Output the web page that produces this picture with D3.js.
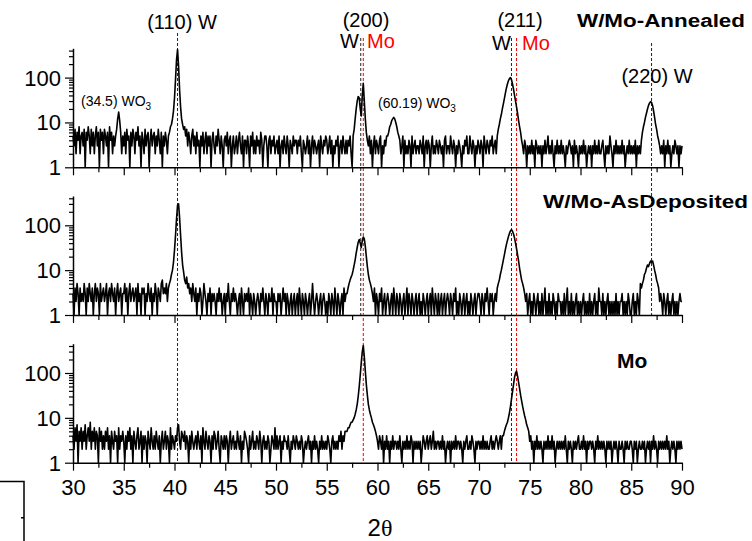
<!DOCTYPE html>
<html>
<head>
<meta charset="utf-8">
<script src="https://cdn.jsdelivr.net/npm/d3@7"></script>
<style>
  body { margin: 0; background: #fff; }
  svg { display: block; font-family: 'Liberation Sans', Arial, sans-serif; }
</style>
</head>
<body>
<div id="main"></div>
<script>
/* 2theta grid: each row is one degree, counts at x.0 .. x.9 */
const startAngle = 30, stepAngle = 0.1;

const annealed = [
  [5,3,7,2,6,4,8,2,5,6], // 30
  [3,7,1,6,4,8,5,2,7,3],
  [6,2,5,8,3,6,1,7,4,6],
  [2,7,5,3,6,1,8,4,6,2],
  [5,3,5,7,12,17,11,6,2,5],
  [3,6,2,7,4,5,1,6,3,7], // 35
  [5,2,6,4,8,3,5,1,6,4],
  [2,7,3,5,6,1,4,7,3,5],
  [6,2,5,3,7,4,2,6,1,5],
  [3,6,4,2,5,6,8,9,12,18],
  [35,90,250,420,180,55,22,12,9,7], // 40
  [8,5,7,3,6,4,2,5,7,3],
  [5,2,6,3,4,1,5,3,6,2],
  [4,6,2,5,3,5,1,4,6,3],
  [2,5,3,7,4,2,5,3,1,4],
  [5,3,6,2,4,5,1,3,5,2], // 45
  [3,5,2,4,6,3,2,5,1,4],
  [4,2,5,3,1,5,3,6,2,4],
  [2,5,3,4,2,6,4,1,3,5],
  [5,3,1,4,5,2,4,3,5,2],
  [3,4,2,5,1,3,4,2,5,3], // 50
  [2,5,3,1,4,3,2,5,3,4],
  [4,2,4,3,5,2,1,4,3,2],
  [3,5,2,4,1,3,5,2,4,3],
  [2,3,4,1,5,3,2,4,3,5],
  [4,2,3,5,2,4,1,3,2,4], // 55
  [3,5,1,3,4,2,5,3,2,4],
  [2,4,3,5,2,1,5,7,12,20],
  [30,38,35,20,14,40,75,30,12,6],
  [4,3,5,2,4,1,3,5,2,4],
  [3,2,4,5,1,3,2,4,3,5], // 60
  [5,6,8,9,11,12,13,12,10,8],
  [6,5,4,2,3,5,1,4,2,3],
  [2,4,3,1,5,2,3,4,2,3],
  [3,2,4,3,2,5,1,3,4,2],
  [4,3,1,3,5,2,3,2,4,3], // 65
  [2,4,3,2,3,1,4,5,2,3],
  [3,2,5,3,2,4,3,1,3,2],
  [4,3,2,1,3,2,4,3,5,2],
  [2,5,3,2,4,3,1,3,2,4],
  [3,2,4,3,1,5,3,2,4,3], // 70
  [2,4,3,5,2,3,4,2,5,7],
  [9,12,15,20,26,34,45,58,72,85],
  [95,100,90,72,55,40,30,22,16,11],
  [8,6,4,3,2,4,3,1,3,2],
  [3,2,4,2,3,1,4,3,2,3], // 75
  [2,3,1,3,2,4,2,3,5,2],
  [3,2,4,2,1,3,2,4,2,3],
  [2,4,2,3,2,1,3,2,3,4],
  [3,2,3,1,4,2,3,2,1,3],
  [2,3,2,4,2,3,1,2,3,2], // 80
  [3,1,3,2,4,2,3,2,4,2],
  [2,3,4,2,1,3,2,3,2,5],
  [3,2,1,3,2,4,2,3,2,3],
  [2,4,2,3,1,2,3,2,4,2],
  [3,2,3,2,4,1,3,2,3,2], // 85
  [4,6,8,10,13,16,20,24,27,29],
  [28,24,18,13,9,7,5,4,3,2],
  [3,2,4,1,3,2,4,2,3,1],
  [2,3,2,4,3,2,3,1,3,2],
  [3] // 90
];

const asDeposited = [
  [3,1,4,2,5,3,1,4,2,3], // 30
  [2,5,3,1,4,2,5,3,2,4],
  [1,3,5,2,4,3,1,5,2,3],
  [4,2,3,5,1,3,4,2,5,3],
  [2,4,1,3,5,2,3,4,1,3],
  [3,5,2,4,1,3,5,2,3,4], // 35
  [2,3,4,1,5,2,3,1,4,3],
  [4,1,3,2,5,3,2,4,1,3],
  [2,5,3,1,4,3,2,5,6,3],
  [4,3,5,2,4,5,6,8,10,15],
  [28,60,140,280,300,150,60,25,13,9], // 40
  [6,5,7,4,5,3,4,2,5,3],
  [2,4,1,3,2,4,3,1,2,5],
  [3,2,1,3,2,4,1,3,2,3],
  [2,1,3,2,4,2,3,1,2,3],
  [1,3,2,5,2,1,3,2,4,2], // 45
  [3,2,1,2,3,1,4,2,1,3],
  [2,3,2,4,1,3,2,1,3,2],
  [1,2,3,2,1,3,2,4,2,1],
  [3,2,1,3,2,2,4,1,3,2],
  [2,1,3,2,3,1,2,4,2,3], // 50
  [1,3,2,1,2,3,1,2,3,1],
  [2,3,1,4,2,1,3,2,1,3],
  [2,1,2,3,1,2,5,2,1,2],
  [3,2,1,2,3,1,2,3,2,1],
  [2,1,3,2,1,3,2,1,4,2], // 55
  [1,3,2,1,2,3,1,4,2,3],
  [3,4,5,6,7,8,10,13,17,24],
  [32,42,48,40,32,45,55,50,34,20],
  [12,8,6,5,4,3,2,4,1,3],
  [2,1,3,2,4,1,2,3,1,2], // 60
  [3,2,1,2,3,1,4,2,1,3],
  [2,1,3,2,1,2,3,1,2,4],
  [1,3,2,1,3,2,1,2,3,1],
  [2,3,1,2,1,3,2,1,2,3],
  [1,2,3,1,4,2,1,3,2,1], // 65
  [3,1,2,3,1,2,3,1,2,3],
  [2,1,3,2,1,3,2,4,1,2],
  [1,3,2,1,2,3,1,2,3,1],
  [2,1,3,2,1,2,3,1,2,3],
  [3,2,1,3,2,1,3,2,4,2], // 70
  [1,3,2,3,1,2,3,2,4,5],
  [6,8,10,13,17,22,29,37,46,56],
  [66,75,80,74,64,52,40,30,22,16],
  [11,8,6,5,4,3,2,3,1,2],
  [3,1,2,1,3,2,1,2,3,1], // 75
  [2,1,3,1,2,4,1,2,1,3],
  [1,2,1,3,2,1,2,1,3,2],
  [2,1,2,1,3,1,2,4,1,2],
  [1,3,1,2,1,2,3,1,2,1],
  [2,1,2,3,1,2,1,2,1,3], // 80
  [1,2,1,2,3,1,2,1,4,2],
  [2,1,3,1,2,1,2,3,1,2],
  [1,2,1,2,1,3,1,2,1,2],
  [2,3,1,2,1,2,1,3,2,1],
  [1,2,3,1,2,1,3,2,1,5], // 85
  [4,5,6,8,9,11,13,12,14,16],
  [15,16,13,10,8,6,5,4,2,3],
  [2,1,3,2,1,2,3,1,2,1],
  [2,3,1,2,1,2,1,2,3,2],
  [2] // 90
];

const molybdenum = [
  [4,2,6,3,7,1,5,3,6,2], // 30
  [5,3,7,2,4,6,3,8,2,5],
  [3,6,2,5,4,1,6,3,5,2],
  [4,2,5,3,6,2,4,1,5,3],
  [2,5,3,4,1,6,2,4,3,5],
  [3,1,4,2,5,3,6,2,4,1], // 35
  [5,3,2,4,6,2,3,5,1,4],
  [2,4,3,1,5,3,2,6,3,2],
  [4,2,5,3,2,4,1,3,5,2],
  [3,5,2,4,3,1,6,2,4,3],
  [2,4,3,6,7,3,2,5,4,3], // 40
  [5,2,4,3,1,4,2,5,3,2],
  [3,4,2,5,3,2,4,1,6,3],
  [2,5,3,2,4,3,1,4,2,5],
  [4,2,3,5,2,1,4,3,2,4],
  [2,4,3,1,3,5,2,3,4,2], // 45
  [3,2,5,3,2,4,1,3,2,5],
  [4,3,2,1,4,2,3,5,2,3],
  [2,4,3,2,5,3,1,3,4,2],
  [3,2,4,3,1,2,4,3,2,6],
  [2,4,2,3,4,1,3,2,4,3], // 50
  [3,2,4,2,1,3,2,4,3,2],
  [4,3,2,3,2,4,3,1,2,3],
  [2,3,4,2,3,1,3,2,4,2],
  [3,2,1,3,2,4,2,3,2,3],
  [2,4,3,2,1,3,4,2,3,2], // 55
  [3,2,4,3,5,2,4,3,5,5],
  [5,6,6,7,8,8,9,10,12,15],
  [20,30,50,90,170,300,410,230,110,55],
  [32,20,15,12,10,8,7,6,5,4],
  [3,2,4,3,2,4,1,3,2,4], // 60
  [2,3,1,3,2,4,2,3,3,2],
  [3,2,4,2,1,3,2,3,2,4],
  [2,3,2,4,3,1,3,2,3,2],
  [3,2,3,1,2,4,3,2,3,4],
  [2,3,4,2,3,5,2,3,2,3], // 65
  [3,2,3,2,4,2,3,1,2,3],
  [2,3,1,3,2,3,2,4,2,3],
  [3,2,3,2,1,3,2,3,4,2],
  [2,3,2,4,3,2,1,3,2,3],
  [3,2,3,2,4,2,3,2,3,2], // 70
  [2,3,4,2,3,2,3,4,3,2],
  [3,4,2,4,4,5,6,7,8,10],
  [13,18,26,38,55,80,100,110,85,62],
  [45,32,24,18,14,11,9,7,6,5],
  [3,4,2,3,1,3,2,4,2,3], // 75
  [2,3,2,1,3,2,3,2,4,2],
  [3,2,4,2,3,1,2,3,2,3],
  [2,3,2,3,2,4,2,1,3,2],
  [3,2,1,3,2,3,2,3,4,2],
  [2,3,2,4,2,3,1,3,2,3], // 80
  [3,2,3,2,1,3,2,4,2,3],
  [2,3,2,3,2,1,3,2,3,2],
  [3,1,2,3,2,3,2,1,3,2],
  [2,3,2,1,3,2,3,2,2,3],
  [3,2,1,3,2,3,1,2,3,2], // 85
  [2,3,2,3,1,2,3,2,3,1],
  [3,2,4,2,3,2,1,3,2,3],
  [2,3,2,3,2,4,2,3,1,2],
  [3,2,3,2,1,3,2,3,2,3],
  [2] // 90
];

const sampleNames = ["W/Mo-Annealed", "W/Mo-AsDeposited", "Mo"];
const xTicks = [30, 35, 40, 45, 50, 55, 60, 65, 70, 75, 80, 85, 90];
const xMinorTicks = [32.5, 37.5, 42.5, 47.5, 52.5, 57.5, 62.5, 67.5, 72.5, 77.5, 82.5, 87.5];
const yTicks = [1, 10, 100];
const yMinorTicks = [2, 3, 4, 5, 6, 7, 8, 9, 20, 30, 40, 50, 60, 70, 80, 90, 200, 300, 400];

/* reference reflections (2theta) */
const reflectionNames = ["W(110)", "W(200)", "Mo(200)", "W(211)", "Mo(211)", "W(220)"];
const reflectionAngles = [40.3, 58.35, 58.6, 73.2, 73.7, 87.0];

/* Size */
const width = 752, height = 541;
const svg = d3.select("#main").append("svg").attr("width", width).attr("height", height);

const x = d3.scaleLinear().domain([30, 90]).range([73, 682]);
const panelBottom = [167.3, 315, 462.7];
const panelHeight = 119;
const series = [annealed, asDeposited, molybdenum];

// flatten rows to points
function toPoints(rows) {
  const pts = [];
  rows.forEach((row, r) => row.forEach((c, j) => pts.push([startAngle + r + j * stepAngle, c])));
  return pts;
}

/* dashed reference lines (drawn first, under the data) */
const lineStyle = {
  "W(110)":  {color: "#222", top: 33, bottom: 462},
  "W(200)":  {color: "#222", top: 38, bottom: 318},
  "Mo(200)": {color: "#e00", top: 38, bottom: 462},
  "W(211)":  {color: "#222", top: 38, bottom: 462},
  "Mo(211)": {color: "#e00", top: 38, bottom: 462},
  "W(220)":  {color: "#222", top: 43, bottom: 318}
};
svg.append("g").selectAll("line")
  .data(reflectionNames.map((n, i) => ({name: n, pos: reflectionAngles[i]})))
  .join("line")
  .attr("x1", d => x(d.pos)).attr("x2", d => x(d.pos))
  .attr("y1", d => lineStyle[d.name].top)
  .attr("y2", d => lineStyle[d.name].bottom)
  .attr("stroke", d => lineStyle[d.name].color)
  .attr("stroke-width", 1)
  .attr("stroke-dasharray", "3,2");

/* panels */
series.forEach((rows, i) => {
  const y = d3.scaleLog().domain([1, 450]).range([panelBottom[i], panelBottom[i] - panelHeight]);
  const g = svg.append("g");

  const line = d3.line().x(d => x(d[0])).y(d => y(d[1]));
  g.append("path")
    .datum(toPoints(rows))
    .attr("d", line)
    .attr("fill", "none")
    .attr("stroke", "#000")
    .attr("stroke-width", 1.6)
    .attr("stroke-linejoin", "round");

  // x axis
  g.append("g").attr("transform", `translate(0,${panelBottom[i]})`)
    .call(d3.axisBottom(x).tickValues(xTicks).tickSize(8).tickSizeOuter(0).tickPadding(9)
      .tickFormat(i === 2 ? d3.format("d") : ""));
  g.append("g").attr("transform", `translate(0,${panelBottom[i]})`)
    .call(d3.axisBottom(x).tickValues(xMinorTicks).tickSize(5).tickSizeOuter(0).tickFormat(""))
    .select(".domain").remove();

  // y axis
  const ya = g.append("g").attr("transform", `translate(${x(30)},0)`)
    .call(d3.axisLeft(y).tickValues(yTicks).tickSize(8).tickSizeOuter(0).tickPadding(4)
      .tickFormat(d3.format("d")));
  g.append("g").attr("transform", `translate(${x(30)},0)`)
    .call(d3.axisLeft(y).tickValues(yMinorTicks).tickSize(4).tickSizeOuter(0).tickFormat(""))
    .select(".domain").remove();

  g.selectAll(".domain").attr("stroke", "#000").attr("stroke-width", 1.5);
  g.selectAll(".tick line").attr("stroke", "#000").attr("stroke-width", 1.2);
  g.selectAll(".tick text").attr("fill", "#000")
    .style("font-family", "'Liberation Sans', Arial, sans-serif").style("font-size", "22px");
  ya.selectAll(".tick text").attr("dy", "0.34em");
});

/* sample names */
svg.append("text").attr("x", 577).attr("y", 27)
  .attr("font-weight", "bold").attr("font-size", 18)
  .attr("textLength", 168).attr("lengthAdjust", "spacingAndGlyphs")
  .text(sampleNames[0]);
svg.append("text").attr("x", 543).attr("y", 208)
  .attr("font-weight", "bold").attr("font-size", 18)
  .attr("textLength", 205).attr("lengthAdjust", "spacingAndGlyphs")
  .text(sampleNames[1]);
svg.append("text").attr("x", 617).attr("y", 368)
  .attr("font-weight", "bold").attr("font-size", 21)
  .text(sampleNames[2]);

/* peak labels */
const big = (t, xx, yy, anchor, color) => svg.append("text")
  .attr("x", xx).attr("y", yy).attr("font-size", 20)
  .attr("text-anchor", anchor || "middle").attr("fill", color || "#000").text(t);
big("(110) W", 182, 29);
big("(200)", 366, 27);
big("W", 340, 48, "start");
big("Mo", 367, 48, "start", "#f00");
big("(211)", 520, 27);
big("W", 492, 50, "start");
big("Mo", 522, 50, "start", "#f00");
big("(220) W", 657, 83);

const small = (t, xx, yy) => {
  const tx = svg.append("text").attr("x", xx).attr("y", yy).attr("font-size", 14).text(t);
  tx.append("tspan").attr("font-size", 10).attr("dy", 4).text("3");
};
small("(34.5) WO", 81, 106);
small("(60.19) WO", 378, 108);

/* x title */
const xt = svg.append("text").attr("x", 380).attr("y", 536)
  .attr("font-size", 24).attr("text-anchor", "middle").text("2");
xt.append("tspan").style("font-family", "'Liberation Serif', 'Times New Roman', serif").text("θ");

/* leftover frame corner at bottom left */
svg.append("path").attr("d", "M0,481.5H24V541M21,517.7H24")
  .attr("fill", "none").attr("stroke", "#000").attr("stroke-width", 1.5);
</script>
</body>
</html>
